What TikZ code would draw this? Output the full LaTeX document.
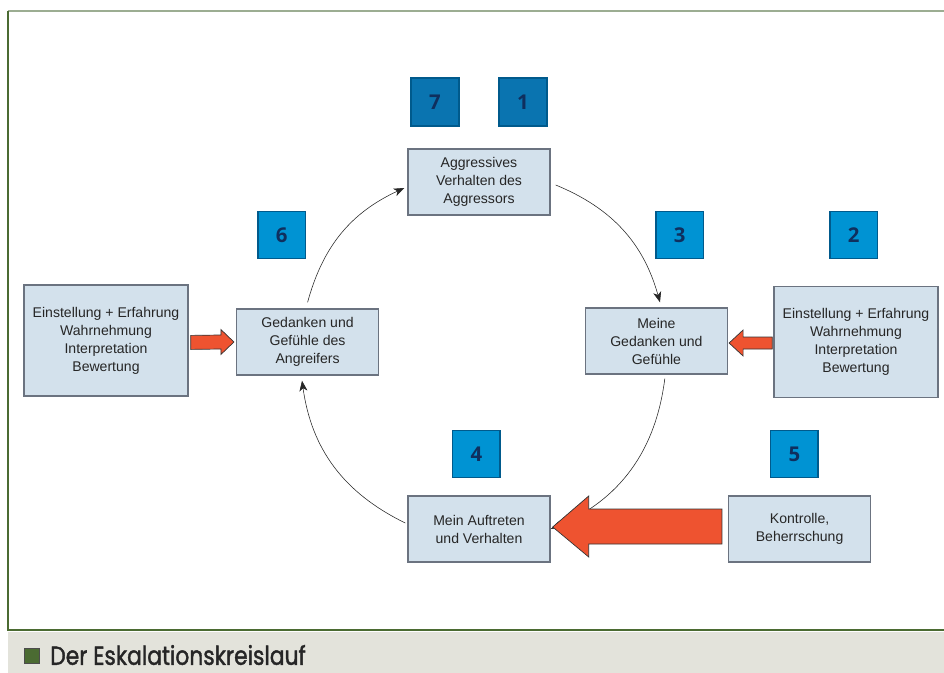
\documentclass[tikz,border=0pt]{standalone}
\usepackage{fontspec}
\setmainfont{Liberation Sans}
\newfontfamily\numfont{Open Sans}
\newfontfamily\capfont{Poppins}[FakeBold=1.6]
\usepackage{tikz}
\usetikzlibrary{arrows,arrows.meta}
\definecolor{boxfill}{HTML}{D3E1EC}
\definecolor{boxline}{HTML}{6B7380}
\definecolor{numfill}{HTML}{0093D3}
\definecolor{numdark}{HTML}{0A74B0}
\definecolor{numline}{HTML}{005A8C}
\definecolor{numtext}{HTML}{0F2F5E}
\definecolor{pushred}{HTML}{EE5330}
\definecolor{frameline}{HTML}{4B6B32}
\definecolor{frametop}{HTML}{9CAD92}
\definecolor{capfill}{HTML}{E3E3DB}

\begin{document}
\begin{tikzpicture}[
    node distance=4cm,
    >={Stealth[length=2.6mm, width=2mm, inset=0.7mm]},
    font=\fontsize{10}{12.8}\selectfont,
    stage/.style={
		rectangle,
		draw=boxline,
		line width=1pt,
		fill=boxfill,
		text=black!85,
		align=center,
		minimum height=1.65cm,
		minimum width=3.55cm
	},
	factor/.style={
		stage,
		minimum height=2.77cm,
		minimum width=4.1cm
	},
	numbox/.style={
		rectangle,
		draw=numline,
		line width=0.8pt,
		fill=numfill,
		text=numtext,
		minimum size=1.18cm,
		font=\numfont\bfseries\fontsize{14.5}{14.5}\selectfont
	},
	numtop/.style={
		numbox,
		fill=numdark,
		line width=1.5pt
	},
	flow/.style={
		->,
		thin,
		black!85
	},
	push/.style={
		draw=black!80,
		line width=0.5pt,
		fill=pushred
	}
  ]

 \useasboundingbox (0,0) rectangle (23.6,-16.825);

% // frame and caption
 \draw [frametop, line width=1.2pt] (0.2,-0.275) -- (23.6,-0.275);
 \draw [frameline, line width=1pt] (0.2,-0.275) -- (0.2,-15.75) -- (23.6,-15.75);
 \fill [capfill] (0.2,-15.79) rectangle (23.6,-16.825);
 \node [draw=black!70, fill=frameline, minimum size=0.38cm, inner sep=0] (capmark) at (0.8,-16.39) {};
 \node [anchor=base west, inner sep=0, text=black!85, font=\capfont\fontsize{18.5}{18.5}\selectfont] (caption) at (1.25,-16.62) {\scalebox{0.84}[1]{Der Eskalationskreislauf}};

% // the circle
 \node [stage] (aggr) at (11.975,-4.55) {Aggressives\\Verhalten des\\Aggressors};
 \node [stage, left of=aggr, xshift=-0.285cm, yshift=-4cm] (angreifer) {Gedanken und\\Gefühle des\\Angreifers};
 \node [stage, right of=aggr, xshift=0.435cm, yshift=-3.975cm] (meine) {Meine\\Gedanken und\\Gefühle};
 \node [stage, below of=aggr, yshift=-4.675cm] (auftreten) {Mein Auftreten\\und Verhalten};
 \node [stage, right of=auftreten, xshift=4.015cm] (kontrolle) {Kontrolle,\\Beherrschung};

% // outer factors
 \node [factor, left of=angreifer, xshift=-1.04cm, yshift=0.04cm] (einstL) {Einstellung + Erfahrung\\Wahrnehmung\\Interpretation\\Bewertung};
 \node [factor, right of=meine, xshift=0.99cm, yshift=-0.025cm] (einstR) {Einstellung + Erfahrung\\Wahrnehmung\\Interpretation\\Bewertung};

% // steps
 \node [numtop, above of=aggr, xshift=-1.1cm, yshift=-2cm] (n7) {7};
 \node [numtop, above of=aggr, xshift=1.1cm, yshift=-2cm] (n1) {1};
 \node [numbox, above of=angreifer, xshift=-0.65cm, yshift=-1.325cm] (n6) {6};
 \node [numbox, above of=meine, xshift=0.58cm, yshift=-1.35cm] (n3) {3};
 \node [numbox, above of=einstR, xshift=-0.06cm, yshift=-1.325cm] (n2) {2};
 \node [numbox, above of=auftreten, xshift=-0.065cm, yshift=-2.125cm] (n4) {4};
 \node [numbox, above of=kontrolle, xshift=-0.13cm, yshift=-2.125cm] (n5) {5};

 \draw [flow, bend left=25] ([yshift=0.15cm]angreifer.north) to ([xshift=-0.075cm,yshift=-0.15cm]aggr.west);
 \draw [flow, bend left=26] ([xshift=0.125cm,yshift=-0.075cm]aggr.east) to ([xshift=0.09cm,yshift=0.125cm]meine.north);
 \draw [flow, bend left=30] ([xshift=0.21cm,yshift=-0.1cm]meine.south) to (auftreten.east);
 \draw [flow, bend left=28] ([xshift=-0.05cm,yshift=0.15cm]auftreten.west) to ([xshift=-0.14cm,yshift=-0.125cm]angreifer.south);

% // red arrows
 \draw [push] ([xshift=-0.15cm,yshift=0.5cm]kontrolle.west)
   -- ([xshift=0.95cm,yshift=0.5cm]auftreten.east)
   -- ([xshift=0.95cm,yshift=0.825cm]auftreten.east)
   -- ([xshift=0.05cm,yshift=0.05cm]auftreten.east)
   -- ([xshift=0.95cm,yshift=-0.7cm]auftreten.east)
   -- ([xshift=0.95cm,yshift=-0.375cm]auftreten.east)
   -- ([xshift=-0.15cm,yshift=-0.375cm]kontrolle.west) -- cycle;
 \draw [push] ([xshift=0.05cm,yshift=0.125cm]einstL.east)
   -- ([xshift=-0.375cm,yshift=0.175cm]angreifer.west)
   -- ([xshift=-0.375cm,yshift=0.3125cm]angreifer.west)
   -- ([xshift=-0.05cm]angreifer.west)
   -- ([xshift=-0.375cm,yshift=-0.3125cm]angreifer.west)
   -- ([xshift=-0.375cm,yshift=-0.175cm]angreifer.west)
   -- ([xshift=0.05cm,yshift=-0.225cm]einstL.east) -- cycle;
 \draw [push] ([xshift=-0.025cm,yshift=0.125cm]einstR.west)
   -- ([xshift=0.375cm,yshift=0.1cm]meine.east)
   -- ([xshift=0.375cm,yshift=0.275cm]meine.east)
   -- ([xshift=0.025cm,yshift=-0.05cm]meine.east)
   -- ([xshift=0.375cm,yshift=-0.375cm]meine.east)
   -- ([xshift=0.375cm,yshift=-0.2cm]meine.east)
   -- ([xshift=-0.025cm,yshift=-0.175cm]einstR.west) -- cycle;

\end{tikzpicture}
\end{document}
